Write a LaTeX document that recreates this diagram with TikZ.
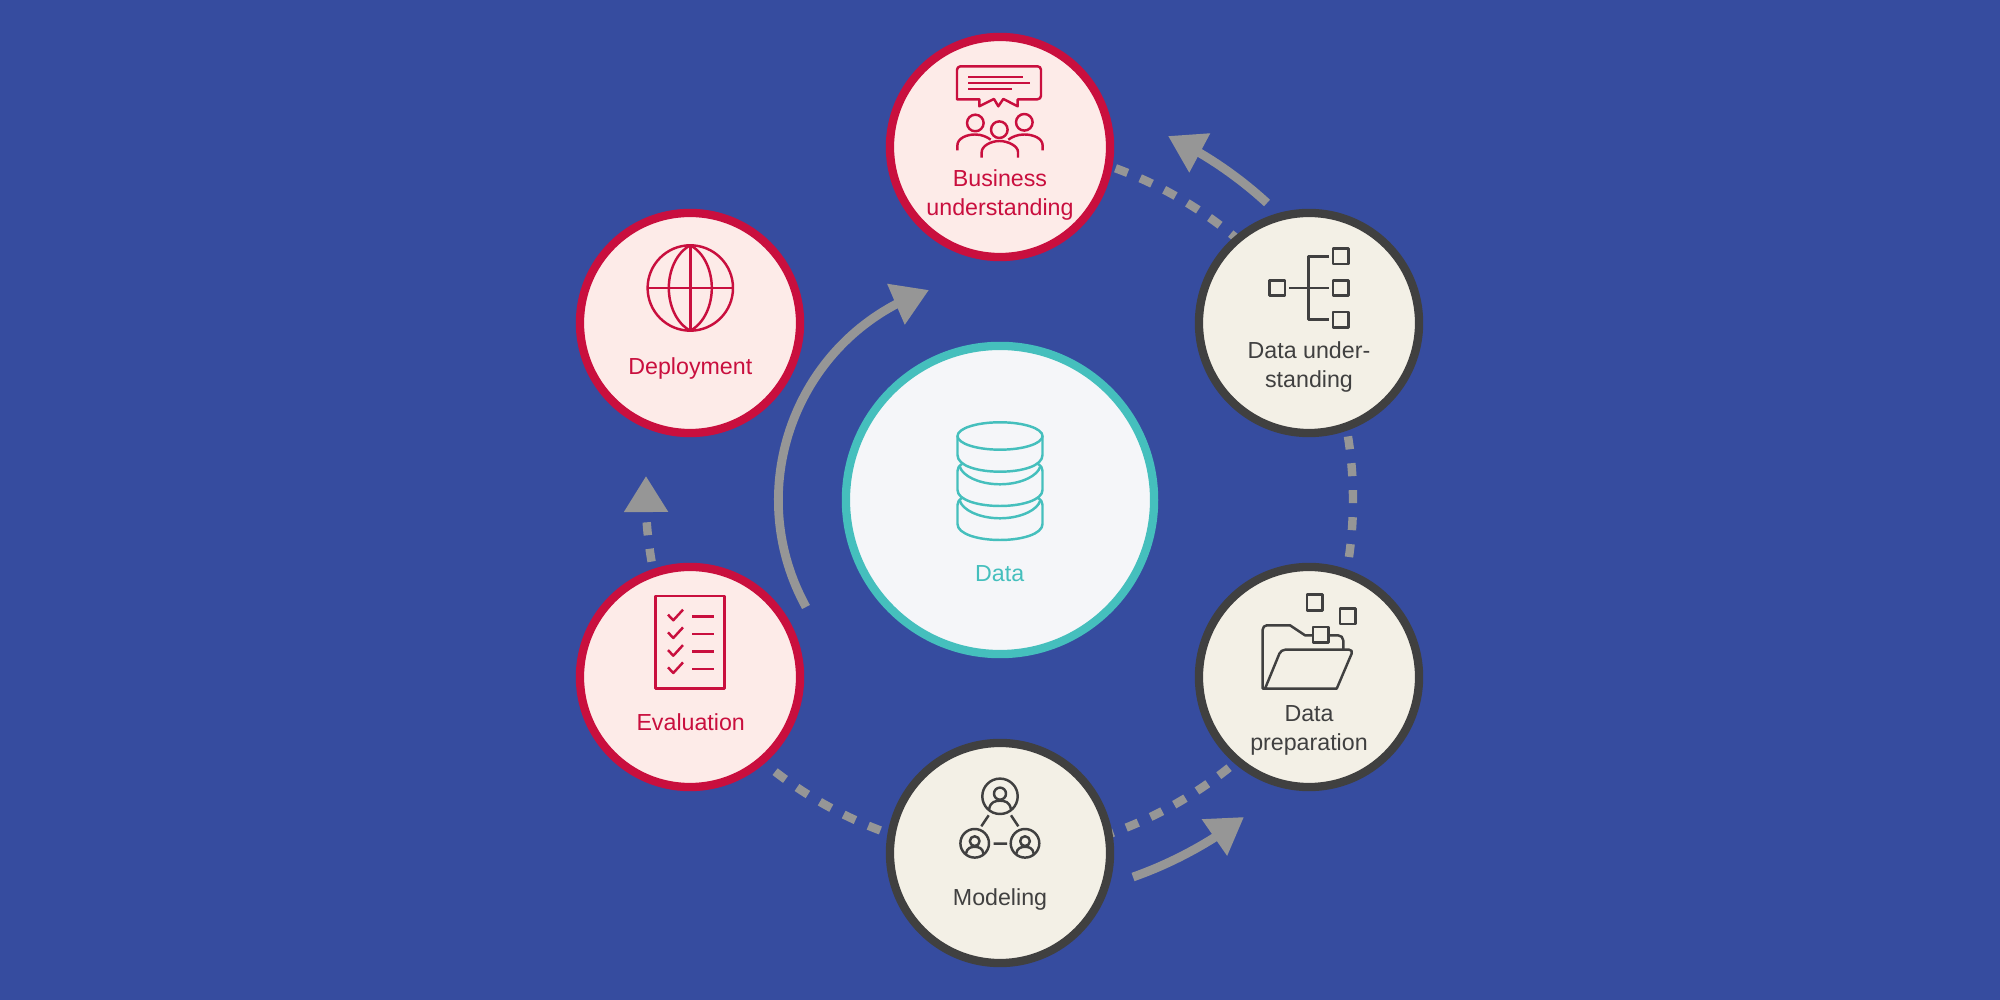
\documentclass[tikz,border=0pt]{standalone}
\usepackage{fontspec}
\setmainfont{Liberation Sans}
\usetikzlibrary{arrows.meta,bending,backgrounds}
\definecolor{bluebg}{HTML}{364C9F}
\definecolor{redline}{HTML}{C90F3E}
\definecolor{redfill}{HTML}{FDEBE8}
\definecolor{darkline}{HTML}{404040}
\definecolor{darkfill}{HTML}{F3F0E6}
\definecolor{tealline}{HTML}{45BFBD}
\definecolor{tealfill}{HTML}{F5F6F9}
\definecolor{flowgray}{HTML}{969696}
\tikzset{
  redstage/.style={circle,draw=redline,fill=redfill,line width=2.36pt,minimum size=2.2cm},
  darkstage/.style={circle,draw=darkline,fill=darkfill,line width=2.36pt,minimum size=2.2cm},
  datastage/.style={circle,draw=tealline,fill=tealfill,line width=2.36pt,minimum size=3.08cm},
  stagelabel/.style={anchor=base,align=center,inner sep=0pt,font=\fontsize{6.6}{8.3}\selectfont},
  iconline/.style={line width=0.7pt,line join=round},
  flowdash/.style={flowgray,line width=2.4pt,dash pattern=on 0.13cm off 0.136cm},
  flowtip/.style={-{Triangle[length=0.36cm,width=0.42cm,flex]}},
  flowarrow/.style={flowgray,line width=2.5pt,flowtip}
}
\begin{document}
\begin{tikzpicture}[x=0.01cm,y=0.01cm]
  \useasboundingbox (0,0) rectangle (2000,1000);
  % stages round the data store
  \node[datastage] (data) at (1000,500) {};
  \node[redstage] (business) at (1000,853) {};
  \node[darkstage] (understanding) at (1309,677) {};
  \node[darkstage] (preparation) at (1309,323) {};
  \node[darkstage] (modeling) at (1000,147) {};
  \node[redstage] (evaluation) at (690,323) {};
  \node[redstage] (deployment) at (690,677) {};
  % free ends of the arrows
  \coordinate (deploytip) at (646,524);
  \coordinate (outerAstart) at (1267,797);
  \coordinate (outerAtip) at (1168,864);
  \coordinate (outerBstart) at (1133,123);
  \coordinate (outerBtip) at (1244,183);
  \coordinate (innerstart) at (806,393);
  \coordinate (innertip) at (929,710);
  \begin{scope}[on background layer]
    \fill[bluebg] (0,0) rectangle (2000,1000);
    \draw[flowdash,dash phase=0.15cm] (business.center) to[bend left=30,looseness=0.85] (understanding.center);
    \draw[flowdash,dash pattern=on 0.13cm off 0.14cm,dash phase=0.145cm] (understanding.center) to[bend left=30,looseness=0.85] (preparation.center);
    \draw[flowdash,dash phase=0.115cm] (preparation.center) to[bend left=30,looseness=0.85] (modeling.center);
    \draw[flowdash,dash pattern=on 0.13cm off 0.14cm,dash phase=0.127cm] (modeling.center) to[bend left=30,looseness=0.85] (evaluation.center);
    \draw[flowdash,flowtip,dash phase=0.11cm] (evaluation.center) to[bend left=15,looseness=0.85] (deploytip);
  \end{scope}
  \draw[flowarrow] (outerAstart) to[bend right=8.6,looseness=0.85] (outerAtip);
  \draw[flowarrow] (outerBstart) to[bend right=9,looseness=0.85] (outerBtip);
  \draw[flowarrow] (innerstart) to[bend left=50,looseness=1.04] (innertip);
  % Business understanding
  \begin{scope}[shift={(business.center)},redline,iconline]
    \draw (-20.7,47.7) -- (-43,47.7) [rounded corners=1pt] -- (-43,80.7) -- (41,80.7) -- (41,47.7) [sharp corners] -- (17.7,47.7) -- (17.7,40.7) -- (3.3,48) -- (-1.7,40.7) -- (-6,48) -- (-20.7,40.7) -- cycle;
    \draw (-31.7,70) -- (23.3,70) (-31.7,64) -- (30,64) (-31.7,58) -- (11.7,58);
    \draw (-24.7,24) circle[radius=8.3] (-0.7,17.3) circle[radius=8.3] (24.3,24.7) circle[radius=8.3];
    \draw (-42.7,-3.3) -- (-42.7,1) .. controls (-42.7,9) and (-33,12.5) .. (-25,12.5) .. controls (-18,12.5) and (-13,10) .. (-9.3,7.3);
    \draw (8.3,7.3) .. controls (12,10) and (17,12.5) .. (24.3,12.5) .. controls (33,12.5) and (42.7,9) .. (42.7,1) -- (42.7,-3.3);
    \draw (-18.3,-10.7) -- (-18.3,-5) .. controls (-18.3,1) and (-9,6) .. (-0.7,6) .. controls (8,6) and (18,1) .. (18,-5) -- (18,-10.7);
    \node[stagelabel] (businesstext) at (0,-69) {Business\\understanding};
  \end{scope}
  % Data understanding
  \begin{scope}[shift={(understanding.center)},darkline,iconline]
    \foreach \sqx/\sqy in {-31.7/35,31.7/66.7,31.7/35,31.7/3.3}
      \draw (\sqx-7.7,\sqy-7.7) rectangle (\sqx+7.7,\sqy+7.7);
    \draw (20,66.7) -- (-0.3,66.7) -- (-0.3,3.3) -- (20,3.3) (-19.7,35) -- (20,35);
    \node[stagelabel] (understandingtext) at (0,-65) {Data under-\\standing};
  \end{scope}
  % Data preparation
  \begin{scope}[shift={(preparation.center)},darkline,iconline]
    \foreach \sqx/\sqy in {5.8/74.5,38.7/60.7,11.7/42.3}
      \draw (\sqx-7.8,\sqy-7.8) rectangle (\sqx+7.8,\sqy+7.8);
    \draw (-44,-11.7) -- (-46.3,-11.7) [rounded corners=1.2pt] -- (-46.3,51.7) [sharp corners] -- (-19,51.7) -- (-4,41.7) -- (4,41.7);
    \draw (19.7,41.7) [rounded corners=1.5pt] -- (34.3,41.7) [sharp corners] -- (34.3,27.3);
    \draw (-44,-11.7) [rounded corners=1.2pt] -- (-28,27.3) -- (44.3,27.3) [sharp corners] -- (27.7,-11.7) -- cycle;
    \node[stagelabel] (preparationtext) at (0,-74) {Data\\preparation};
  \end{scope}
  % Modeling
  \begin{scope}[shift={(modeling.center)},darkline,iconline]
    \foreach \px/\py/\pr in {0/56.7/17.7,-25.3/9.7/14.3,25/9.7/14.3} {
      \draw (\px,\py) circle[radius=\pr];
      \draw (\px,\py+0.15*\pr) circle[radius=0.34*\pr];
      \draw (\px-0.62*\pr,\py-0.75*\pr) .. controls (\px-0.55*\pr,\py-0.3*\pr) and (\px-0.25*\pr,\py-0.25*\pr) .. (\px,\py-0.25*\pr)
        .. controls (\px+0.25*\pr,\py-0.25*\pr) and (\px+0.55*\pr,\py-0.3*\pr) .. (\px+0.62*\pr,\py-0.75*\pr);
    }
    \draw (-11.3,37.7) -- (-18.7,26.7) (11,37.7) -- (18.3,26.7) (-6.3,9.3) -- (7,9.3);
    \node[stagelabel] (modelingtext) at (0,-53) {Modeling};
  \end{scope}
  % Evaluation
  \begin{scope}[shift={(evaluation.center)},redline,iconline]
    \draw (-34.3,-11.7) rectangle (34.7,81);
    \foreach \rowy in {60.7,43,25.3,8} {
      \draw (2,\rowy) -- (23.7,\rowy);
      \draw (-22,\rowy+1.6) -- (-16.7,\rowy-4) -- (-7,\rowy+6.6);
    }
    \node[stagelabel] (evaluationtext) at (0.7,-53.3) {Evaluation};
  \end{scope}
  % Deployment
  \begin{scope}[shift={(deployment.center)},redline,iconline]
    \draw (0.3,35) circle[radius=42.7];
    \draw (-42.4,35) -- (43,35) (0.3,77.7) -- (0.3,-7.7);
    \draw (0.3,77.7) .. controls (-14,70) and (-21.2,52) .. (-21.2,35) .. controls (-21.2,18) and (-14,0) .. (0.3,-7.7);
    \draw (0.3,77.7) .. controls (14.6,70) and (21.8,52) .. (21.8,35) .. controls (21.8,18) and (14.6,0) .. (0.3,-7.7);
    \node[stagelabel] (deploymenttext) at (0.3,-52) {Deployment};
  \end{scope}
  % Data
  \begin{scope}[shift={(data.center)},tealline,iconline]
    \draw (0,64) ellipse[x radius=42.5,y radius=13.7];
    \draw (-42.5,64) -- (-42.5,45) .. controls (-42.5,34) and (-22,28.3) .. (0,28.3) .. controls (22,28.3) and (42.5,34) .. (42.5,45) -- (42.5,64);
    \foreach \ty in {0,-34} {
      \draw (-40,33+\ty) .. controls (-38,25+\ty) and (-22,15.7+\ty) .. (0,15.7+\ty) .. controls (22,15.7+\ty) and (38,25+\ty) .. (40,33+\ty);
      \draw (-38,36+\ty) .. controls (-41,34+\ty) and (-42.5,32+\ty) .. (-42.5,29+\ty) -- (-42.5,10+\ty) .. controls (-42.5,0+\ty) and (-22,-6+\ty) .. (0,-6+\ty)
        .. controls (22,-6+\ty) and (42.5,0+\ty) .. (42.5,10+\ty) -- (42.5,29+\ty) .. controls (42.5,32+\ty) and (41,34+\ty) .. (38,36+\ty);
    }
    \node[stagelabel] (datatext) at (-0.3,-81.5) {Data};
  \end{scope}
\end{tikzpicture}
\end{document}
